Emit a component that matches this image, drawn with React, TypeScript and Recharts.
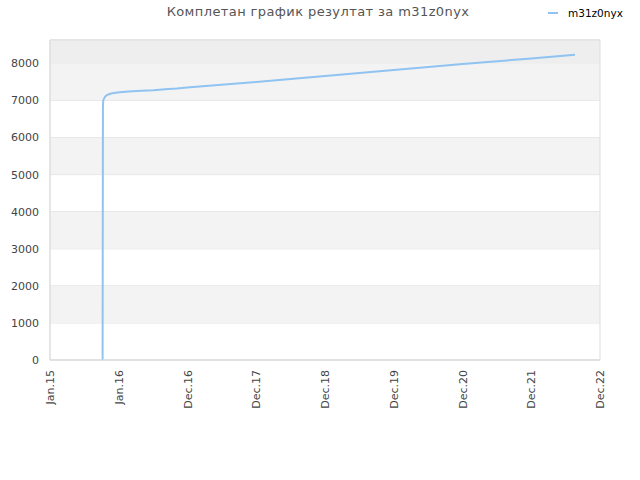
import { CartesianGrid, Line, LineChart, ReferenceArea, XAxis, YAxis } from "recharts";

const TITLE = "Комплетан график резултат за m31z0nyx";
const SERIES_NAME = "m31z0nyx";

// x is measured in tick slots (0 = Jan.15, 8 = Dec.22)
const xLabels = ["Jan.15", "Jan.16", "Dec.16", "Dec.17", "Dec.18", "Dec.19", "Dec.20", "Dec.21", "Dec.22"];
const xTicks = [0, 1, 2, 3, 4, 5, 6, 7, 8];
const yTicks = [0, 1000, 2000, 3000, 4000, 5000, 6000, 7000, 8000];
const Y_MAX = 8630;

const slots = [0.765, 0.767, 0.77, 0.775, 0.8, 0.825, 0.887, 0.979, 1.139, 1.334, 1.503, 1.673, 1.843, 2.036, 3.0, 4.0, 5.0, 6.0, 7.0, 7.636];
const scores = [0, 2830, 6827, 7008, 7097, 7143, 7188, 7215, 7242, 7260, 7278, 7304, 7322, 7358, 7500, 7660, 7820, 7985, 8130, 8233];

// shaded horizontal bands [from, to, fill]
const bands: [number, number, string][] = [
  [1000, 2000, "#f3f3f3"],
  [3000, 4000, "#f3f3f3"],
  [5000, 6000, "#f3f3f3"],
  [7000, 8000, "#f3f3f3"],
  [8000, Y_MAX, "#eeeeee"],
];

const data = slots.map((x, i) => ({ x, score: scores[i] }));

const LINE = "#8fc3f1";
const GRID = "#dddddd";
const INK = "#444444";
const FONT = "'DejaVu Sans', Verdana, sans-serif";

function XTick({ x, y, payload }: { x?: number; y?: number; payload?: { value: number } }) {
  const label = xLabels[payload?.value ?? 0];
  return (
    <text
      x={0}
      y={0}
      transform={`translate(${(x ?? 0) + 4}, ${(y ?? 0) + 2}) rotate(-90)`}
      textAnchor="end"
      fill={INK}
      fontSize={11}
      fontFamily={FONT}
    >
      {label}
    </text>
  );
}

export default function App() {
  return (
    <div style={{ position: "absolute", left: 0, top: 0, width: 640, height: 480, background: "#fff", fontFamily: FONT }}>
      <div
        style={{
          position: "absolute",
          top: 4,
          left: 0,
          width: 636,
          textAlign: "center",
          fontSize: 13,
          letterSpacing: 0.4,
          color: "#555",
        }}
      >
        {TITLE}
      </div>
      <div style={{ position: "absolute", top: 7, left: 548, fontSize: 10.5, color: "#000", display: "flex", alignItems: "center" }}>
        <span style={{ width: 10, height: 2, background: LINE, marginRight: 10 }} />
        {SERIES_NAME}
      </div>
      <LineChart width={640} height={480} data={data} margin={{ top: 40, right: 40, left: 0, bottom: 60 }}>
        {bands.map(([y1, y2, fill]) => (
          <ReferenceArea key={y1} y1={y1} y2={y2} fill={fill} fillOpacity={1} stroke="none" />
        ))}
        <CartesianGrid stroke={GRID} vertical={false} />
        <ReferenceArea x1={0} x2={8} y1={0} y2={Y_MAX} fill="none" stroke={GRID} strokeWidth={1} />
        <XAxis
          dataKey="x"
          type="number"
          domain={[0, 8]}
          ticks={xTicks}
          tick={<XTick />}
          tickLine={false}
          axisLine={{ stroke: GRID }}
          interval={0}
          height={60}
        />
        <YAxis
          type="number"
          domain={[0, Y_MAX]}
          ticks={yTicks}
          tick={{ fill: INK, fontSize: 11, fontFamily: FONT }}
          tickLine={false}
          axisLine={{ stroke: GRID }}
          tickMargin={5}
          width={50}
          interval={0}
        />
        <Line
          type="linear"
          dataKey="score"
          stroke={LINE}
          strokeWidth={2}
          dot={false}
          isAnimationActive={false}
        />
      </LineChart>
    </div>
  );
}
